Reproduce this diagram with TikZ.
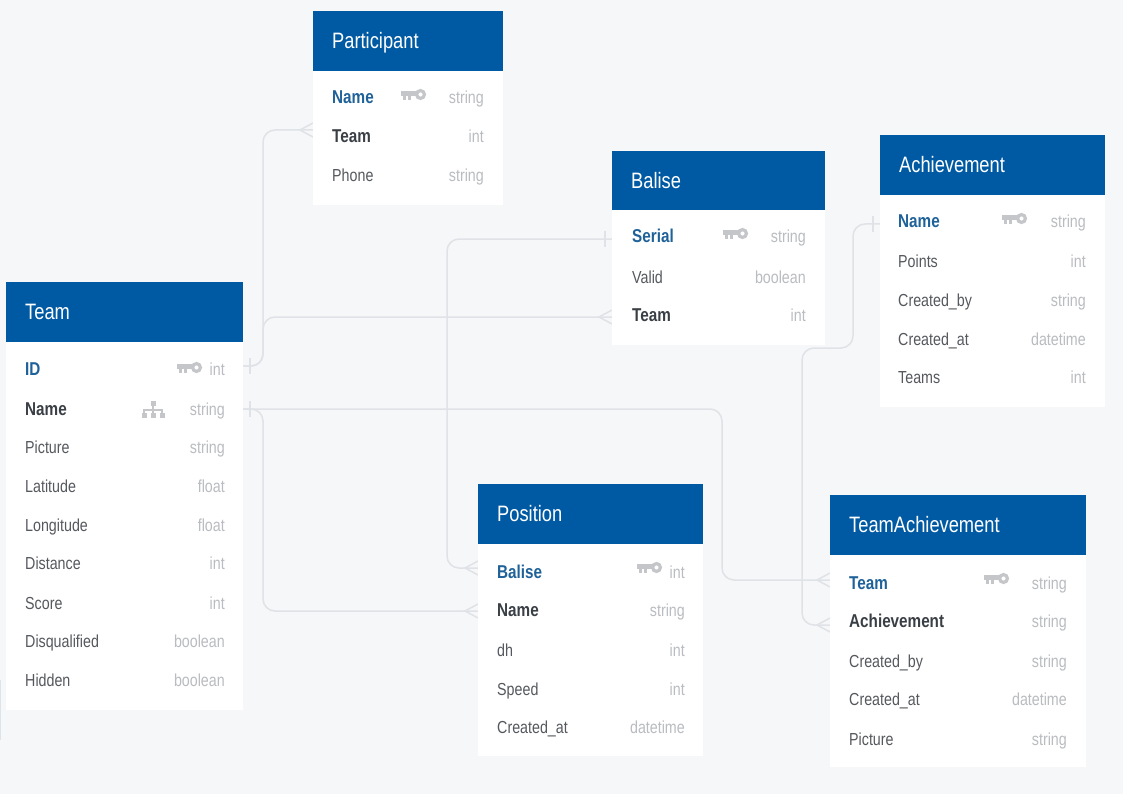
\documentclass[tikz,border=0pt]{standalone}
\usepackage{fontspec}
\setmainfont{Liberation Sans}[FakeStretch=0.82]
\definecolor{bgc}{HTML}{F6F7F8}
\definecolor{headc}{HTML}{005AA3}
\definecolor{linec}{HTML}{DFE2E6}
\definecolor{pkc}{HTML}{1F6299}
\definecolor{fkc}{HTML}{3A3F45}
\definecolor{txtc}{HTML}{55595E}
\definecolor{typec}{HTML}{B9BCC0}
\definecolor{iconc}{HTML}{C4C6C9}
\tikzset{
  headbox/.style={fill=headc,inner sep=0pt,outer sep=0pt},
  bodybox/.style={fill=white,inner sep=0pt,outer sep=0pt},
  titletext/.style={text=white,anchor=base west,inner sep=0pt,font=\fontsize{22.3}{24}\selectfont},
  plaintext/.style={text=txtc,anchor=base west,inner sep=0pt,font=\fontsize{17.4}{19}\selectfont},
  pktext/.style={text=pkc,anchor=base west,inner sep=0pt,font=\fontsize{18.6}{19}\selectfont\bfseries},
  fktext/.style={text=fkc,anchor=base west,inner sep=0pt,font=\fontsize{18.6}{19}\selectfont\bfseries},
  typetext/.style={text=typec,anchor=base east,inner sep=0pt,font=\fontsize{17.4}{19}\selectfont},
  link/.style={draw=linec,line width=1.5pt,rounded corners=12pt},
  tick/.style={draw=linec,line width=1.5pt},
}
% table: id, x0, y0, x1, y header bottom, y bottom, title
\newcommand{\tbl}[7]{%
  \node[bodybox,minimum width={(#4-#2)*1pt},minimum height={(#6-#5)*1pt}] (#1body) at ({(#2+#4)/2},{(#5+#6)/2}) {};
  \node[headbox,minimum width={(#4-#2)*1pt},minimum height={(#5-#3)*1pt}] (#1head) at ({(#2+#4)/2},{(#3+#5)/2}) {};
  \node[titletext] (#1title) at (#2+19,#3+37.5) {#7};
}
% row: id, left x, right x, baseline y, style, label, type
\newcommand{\rowtxt}[7]{%
  \node[#5] (#1) at (#2,#4+6) {#6};
  \node[typetext] (#1t) at (#3,#4+6) {#7};
}
\newcommand{\keyicon}[2]{%
  \draw[iconc,line width=3.2pt] (#1+6.5,#2+0.5) circle (3.9pt);
  \fill[iconc] (#1-13,#2-2.6) rectangle (#1+3,#2+1.6);
  \fill[iconc] (#1-11.5,#2) rectangle (#1-8.5,#2+6);
  \fill[iconc] (#1-6.5,#2) rectangle (#1-3.5,#2+6);
}
\newcommand{\orgicon}[2]{%
  \fill[iconc] (#1-2.5,#2-9) rectangle (#1+2.5,#2-4);
  \fill[iconc] (#1-1,#2-4) rectangle (#1+1,#2+3);
  \fill[iconc] (#1-10,#2-1) rectangle (#1+10,#2+1);
  \fill[iconc] (#1-11.5,#2+3) rectangle (#1-6.5,#2+8);
  \fill[iconc] (#1-2.5,#2+3) rectangle (#1+2.5,#2+8);
  \fill[iconc] (#1+6.5,#2+3) rectangle (#1+11.5,#2+8);
  \fill[iconc] (#1-10,#2-1) rectangle (#1-8,#2+3);
  \fill[iconc] (#1+8,#2-1) rectangle (#1+10,#2+3);
}
\newcommand{\crow}[1]{%
  \draw[tick] (#1)++(0,-7) -- ++(-13,7) -- ++(13,7);
}
\newcommand{\oneend}[1]{%
  \draw[tick] (#1)++(7,-8) -- ++(0,16);
}
\begin{document}
\begin{tikzpicture}[x=1pt,y=-1pt]
\useasboundingbox (0,0) rectangle (1123,794);
\fill[bgc] (0,0) rectangle (1123,794);
\draw[linec,line width=1pt] (0.5,680) -- (0.5,740);

% connector ends
\coordinate (teamIDe) at (243,366);
\coordinate (teamNamee) at (243,409);
\coordinate (partTeame) at (313,130);
\coordinate (baliseTeame) at (612,317);
\coordinate (baliseSeriale) at (612,239);
\coordinate (posBalisee) at (478,568);
\coordinate (posNamee) at (478,611);
\coordinate (achNamee) at (880,224);
\coordinate (taTeame) at (830,580);
\coordinate (taAche) at (830,625);

% connectors
\draw[link] (teamIDe) -- (263,366) -- (263,130) -- (partTeame);
\draw[link] (teamIDe) -- (263,366) -- (263,317) -- (baliseTeame);
\draw[link] (teamNamee) -- (722,409) -- (722,580) -- (taTeame);
\draw[link] (teamNamee) -- (263,409) -- (263,611) -- (posNamee);
\draw[link] (baliseSeriale) -- (447,239) -- (447,568) -- (posBalisee);
\draw[link] (achNamee) -- (853,224) -- (853,348) -- (802,348) -- (802,625) -- (taAche);
\crow{partTeame}\crow{baliseTeame}\crow{taTeame}\crow{posNamee}\crow{posBalisee}\crow{taAche}
\oneend{teamIDe}\oneend{teamNamee}
\draw[tick] (605,231) -- (605,247);
\draw[tick] (873,216) -- (873,232);

% Team
\tbl{team}{6}{282}{243}{342}{710}{Team}
\rowtxt{teamID}{25}{225}{369}{pktext}{ID}{int}
\rowtxt{teamName}{25}{225}{409}{fktext}{Name}{string}
\rowtxt{teamPicture}{25}{225}{447}{plaintext}{Picture}{string}
\rowtxt{teamLat}{25}{225}{486}{plaintext}{Latitude}{float}
\rowtxt{teamLon}{25}{225}{525}{plaintext}{Longitude}{float}
\rowtxt{teamDist}{25}{225}{563}{plaintext}{Distance}{int}
\rowtxt{teamScore}{25}{225}{603}{plaintext}{Score}{int}
\rowtxt{teamDisq}{25}{225}{641}{plaintext}{Disqualified}{boolean}
\rowtxt{teamHid}{25}{225}{680}{plaintext}{Hidden}{boolean}
\keyicon{190}{367}
\orgicon{153}{410}

% Participant
\tbl{part}{313}{11}{503}{71}{205}{Participant}
\rowtxt{partName}{332}{484}{98}{pktext}{Name}{string}
\rowtxt{partTeam}{332}{484}{137}{fktext}{Team}{int}
\rowtxt{partPhone}{332}{484}{176}{plaintext}{Phone}{string}
\keyicon{414}{94}

% Balise
\tbl{bal}{612}{151}{825}{210}{345}{Balise}
\rowtxt{balSerial}{632}{806}{237}{pktext}{Serial}{string}
\rowtxt{balValid}{632}{806}{277}{plaintext}{Valid}{boolean}
\rowtxt{balTeam}{632}{806}{315}{fktext}{Team}{int}
\keyicon{736}{233}

% Achievement
\tbl{ach}{880}{135}{1105}{195}{407}{Achievement}
\rowtxt{achName}{898}{1086}{222}{pktext}{Name}{string}
\rowtxt{achPoints}{898}{1086}{261}{plaintext}{Points}{int}
\rowtxt{achBy}{898}{1086}{300}{plaintext}{Created\_by}{string}
\rowtxt{achAt}{898}{1086}{339}{plaintext}{Created\_at}{datetime}
\rowtxt{achTeams}{898}{1086}{377}{plaintext}{Teams}{int}
\keyicon{1015}{218}

% Position
\tbl{pos}{478}{484}{703}{544}{756}{Position}
\rowtxt{posBalise}{497}{685}{572}{pktext}{Balise}{int}
\rowtxt{posName}{497}{685}{610}{fktext}{Name}{string}
\rowtxt{posDh}{497}{685}{650}{plaintext}{dh}{int}
\rowtxt{posSpeed}{497}{685}{689}{plaintext}{Speed}{int}
\rowtxt{posAt}{497}{685}{727}{plaintext}{Created\_at}{datetime}
\keyicon{650}{567}

% TeamAchievement
\tbl{ta}{830}{495}{1086}{555}{767}{TeamAchievement}
\rowtxt{taTeam}{849}{1067}{583}{pktext}{Team}{string}
\rowtxt{taAch}{849}{1067}{621}{fktext}{Achievement}{string}
\rowtxt{taBy}{849}{1067}{661}{plaintext}{Created\_by}{string}
\rowtxt{taAt}{849}{1067}{699}{plaintext}{Created\_at}{datetime}
\rowtxt{taPic}{849}{1067}{739}{plaintext}{Picture}{string}
\keyicon{997}{578}
\end{tikzpicture}
\end{document}
